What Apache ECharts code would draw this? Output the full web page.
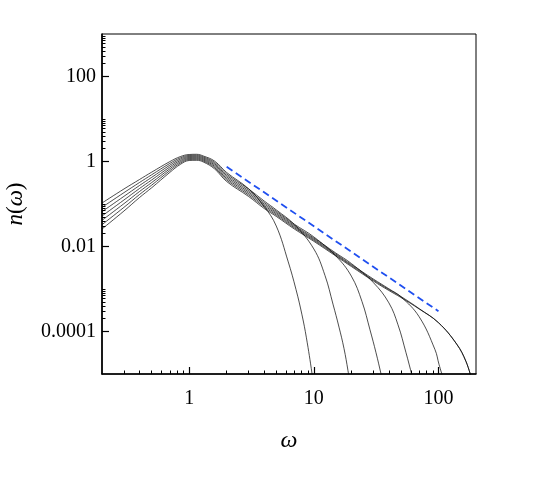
<!DOCTYPE html>
<html>
<head>
<meta charset="utf-8">
<script src="https://cdn.jsdelivr.net/npm/echarts@6/dist/echarts.min.js"></script>
<style>html,body{margin:0;padding:0;background:#fff}#c{width:545px;height:477px}</style>
</head>
<body>
<div id="c"></div>
<script>
// ---- data ----
const xRange = [0.2, 200];
const yRange = [1e-5, 1000];
const xMajorTicks = [1, 10, 100];
const xTickLabels = ['1', '10', '100'];
const xMinorTicks = [0.3,0.4,0.5,0.6,0.7,0.8,0.9, 2,3,4,5,6,7,8,9, 20,30,40,50,60,70,80,90];
const yMajorTicks = [0.0001, 0.01, 1, 100];
const yTickLabels = ['0.0001', '0.01', '1', '100'];
const yMinorTicks = [0.0002,0.0003,0.0004,0.0005,0.0006,0.0007,0.0008,0.0009,0.001,
                     0.02,0.03,0.04,0.05,0.06,0.07,0.08,0.09,0.1,
                     2,3,4,5,6,7,8,9,10,
                     200,300,400,500,600,700,800,900];

const curveA = [[0.2,0.1055],[0.3,0.2256],[0.4,0.3771],[0.5,0.5602],[0.7,0.9942],[0.85,1.304],[1.0,1.4608],[1.15,1.4769],[1.3,1.3471],[1.6,1.0217],[2,0.5509],[3,0.2278],[4,0.0878],[5,0.03029],[6.209,0.004534],[7.195,0.000979],[8.04,0.0002463],[8.723,0.0000711],[9.672,0.0000103],[9.943,0.000005]];
const curveB = [[0.2,0.0835],[0.3,0.1849],[0.4,0.3206],[0.5,0.4865],[0.7,0.9019],[0.85,1.2154],[1.0,1.3838],[1.15,1.399],[1.3,1.2761],[1.6,0.9523],[2,0.5079],[3,0.2254],[4,0.1176],[5,0.0726],[7,0.03258],[10,0.008781],[12.3,0.002074],[14.25,0.0004414],[15.93,0.0001266],[17.47,0.00003977],[18.8,0.00001202],[19.33,0.0000068]];
const curveC = [[0.2,0.066],[0.3,0.1515],[0.4,0.2725],[0.5,0.4226],[0.7,0.8181],[0.85,1.1327],[1.0,1.3109],[1.15,1.3253],[1.3,1.2089],[1.6,0.8876],[2,0.4683],[3,0.2078],[4,0.1085],[5,0.0677],[7,0.03329],[10,0.01682],[15,0.006018],[20,0.002011],[24.35,0.0005074],[28.23,0.0001095],[31.54,0.0000318],[34.58,0.00001017],[35.89,0.0000062]];
const curveD = [[0.2,0.0522],[0.3,0.1242],[0.4,0.2316],[0.5,0.367],[0.7,0.7421],[0.85,1.0557],[1.0,1.2418],[1.15,1.2555],[1.3,1.1452],[1.6,0.8272],[2,0.4318],[3,0.1916],[4,0.1],[5,0.0631],[7,0.0312],[10,0.01585],[15,0.007033],[20,0.003981],[30,0.001423],[40,0.000472],[47.34,0.0001441],[54.89,0.00003177],[61.33,0.00000925],[63.64,0.00000607]];
const curveE = [[0.2,0.0413],[0.3,0.1018],[0.4,0.1969],[0.5,0.3187],[0.7,0.6732],[0.85,0.9839],[1.0,1.1763],[1.15,1.1893],[1.3,1.0849],[1.6,0.771],[2,0.3981],[3,0.1767],[4,0.0922],[5,0.0588],[7,0.02924],[10,0.01493],[15,0.006662],[20,0.003771],[30,0.001719],[40,0.001011],[50,0.000655],[70,0.000222],[93.78,0.00003743],[100.97,0.00001691],[108.7,0.00000812]];
const curveF = [[0.2,0.0326],[0.3,0.0834],[0.4,0.1673],[0.5,0.2768],[0.7,0.6106],[0.85,0.917],[1.0,1.1144],[1.15,1.1267],[1.3,1.0277],[1.6,0.7185],[2,0.3671],[3,0.1629],[4,0.085],[5,0.0548],[7,0.0274],[10,0.01407],[15,0.006311],[20,0.003572],[30,0.001629],[40,0.000973],[50,0.000666],[70,0.0003458],[100,0.0001611],[140,0.0000505],[166.3,0.00001966],[185.8,0.00000707]];
const curveG = [[0.2,0.0258],[0.3,0.0684],[0.4,0.1422],[0.5,0.2404],[0.7,0.5539],[0.85,0.8547],[1.0,1.0557],[1.15,1.0673],[1.3,0.9736],[1.6,0.6697],[2,0.3384],[3,0.1502],[4,0.0784],[5,0.0511],[7,0.02568],[10,0.01326],[15,0.005979],[20,0.003384],[30,0.001543],[40,0.000922],[50,0.000631],[70,0.000338],[100,0.0001611],[140,0.0000505],[166.3,0.00001966],[185.8,0.00000707]];
const powerLaw = [[2,0.75],[100,0.0003]];

const curves = [curveA, curveB, curveC, curveD, curveE, curveF, curveG];

// ---- chart ----
const FONT = '"Liberation Serif", "Times New Roman", serif';
function pick(ticks, labels, v) {
  let best = 0, bd = Infinity;
  ticks.forEach((t, i) => { const d = Math.abs(Math.log10(t) - Math.log10(v)); if (d < bd) { bd = d; best = i; } });
  return labels[best];
}
const chart = echarts.init(document.getElementById('c'), null, {renderer: 'canvas'});
const baseX = {type: 'log', logBase: 10, min: xRange[0], max: xRange[1], gridIndex: 0, position: 'bottom', splitLine: {show: false}};
const baseY = {type: 'log', logBase: 10, min: yRange[0], max: yRange[1], gridIndex: 0, position: 'left', splitLine: {show: false}};

const series = curves.map(c => ({
  type: 'line', data: c, xAxisIndex: 0, yAxisIndex: 0, smooth: 0.4, showSymbol: false, symbol: 'none',
  lineStyle: {color: '#000', width: 0.7}, clip: true, silent: true, z: 3
}));
series.push({
  type: 'line', data: powerLaw, xAxisIndex: 0, yAxisIndex: 0, showSymbol: false, symbol: 'none',
  lineStyle: {color: '#1f4ff0', width: 1.8, type: [7, 4]}, clip: true, silent: true, z: 4
});

chart.setOption({
  animation: false,
  backgroundColor: '#fff',
  grid: {left: 102, top: 34, width: 374, height: 340, show: true, borderColor: '#000', borderWidth: 1,
         containLabel: false, outerBoundsMode: 'none'},
  xAxis: [
    Object.assign({}, baseX, {
      name: '\u03c9', nameLocation: 'middle', nameGap: 55,
      nameTextStyle: {fontFamily: FONT, fontStyle: 'italic', fontSize: 24, color: '#000'},
      axisLine: {show: true, onZero: false, lineStyle: {color: '#000', width: 1.6}},
      axisTick: {show: true, inside: true, length: 7, customValues: xMajorTicks, lineStyle: {color: '#000', width: 1.2}},
      axisLabel: {show: true, customValues: xMajorTicks, margin: 15, fontFamily: FONT, fontSize: 20, color: '#000',
        formatter: v => pick(xMajorTicks, xTickLabels, v)}
    }),
    Object.assign({}, baseX, {
      axisLine: {show: false},
      axisTick: {show: true, inside: true, length: 3.5, customValues: xMinorTicks, lineStyle: {color: '#000', width: 1}},
      axisLabel: {show: false}
    })
  ],
  yAxis: [
    Object.assign({}, baseY, {
      name: '{i|n}{r|(}{i|\u03c9}{r|)}', nameLocation: 'middle', nameGap: 75, nameRotate: 90,
      nameTextStyle: {fontFamily: FONT, fontSize: 23, color: '#000',
        rich: {i: {fontFamily: FONT, fontStyle: 'italic', fontSize: 23, color: '#000'},
               r: {fontFamily: FONT, fontSize: 23, color: '#000'}}},
      axisLine: {show: true, onZero: false, lineStyle: {color: '#000', width: 1.6}},
      axisTick: {show: true, inside: true, length: 7, customValues: yMajorTicks, lineStyle: {color: '#000', width: 1.2}},
      axisLabel: {show: true, customValues: yMajorTicks, margin: 6, fontFamily: FONT, fontSize: 20, color: '#000',
        formatter: v => pick(yMajorTicks, yTickLabels, v)}
    }),
    Object.assign({}, baseY, {
      axisLine: {show: false},
      axisTick: {show: true, inside: true, length: 3.5, customValues: yMinorTicks, lineStyle: {color: '#000', width: 1}},
      axisLabel: {show: false}
    })
  ],
  series: series
});
</script>
</body>
</html>
